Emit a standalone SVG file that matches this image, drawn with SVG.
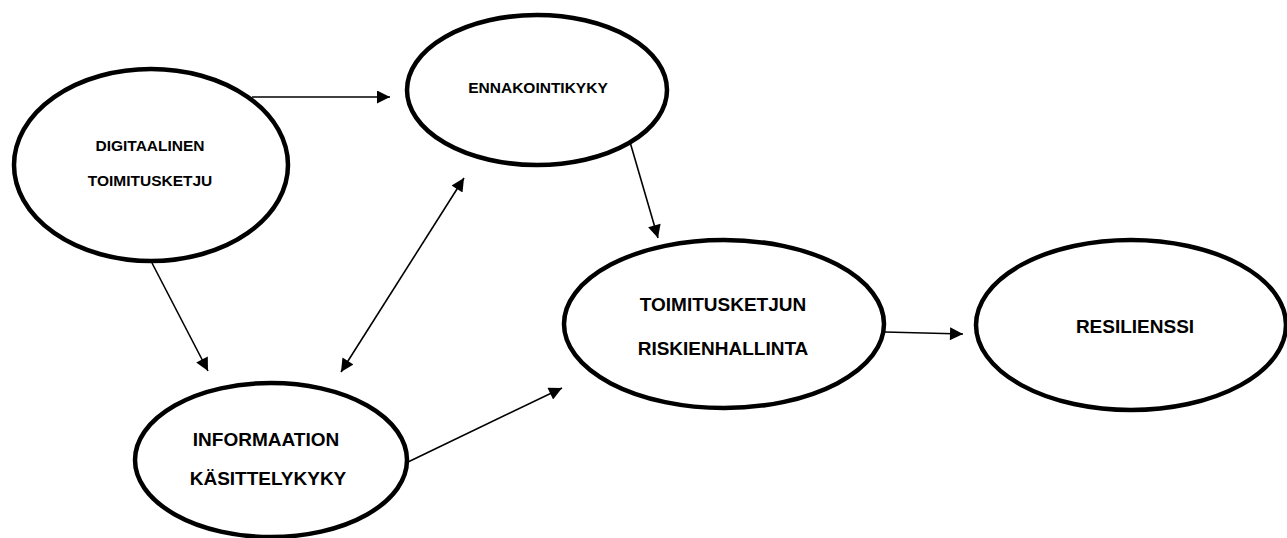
<svg xmlns="http://www.w3.org/2000/svg" width="1287" height="538" viewBox="0 0 1287 538">
<style>
.n{fill:#fff;stroke:#000;stroke-width:4.5}
.t{font-family:"Liberation Sans",Arial,sans-serif;font-weight:bold;fill:#000;text-anchor:middle;dominant-baseline:central}
.s{font-size:15.5px}
.l{font-size:19px}
.c{stroke:#000;stroke-width:1.6;fill:none}
</style>
<defs>
<marker id="ah" viewBox="0 0 10 10" refX="10" refY="5" markerWidth="16" markerHeight="13" markerUnits="userSpaceOnUse" orient="auto-start-reverse">
<path d="M0,0 L10,5 L0,10 Z" fill="#000"/>
</marker>
</defs>
<rect width="1287" height="538" fill="#fff"/>
<g id="connectors">
<line class="c" x1="252" y1="97" x2="390" y2="97" marker-end="url(#ah)"/>
<line class="c" x1="630" y1="142" x2="658" y2="238" marker-end="url(#ah)"/>
<line class="c" x1="152" y1="263" x2="208" y2="371" marker-end="url(#ah)"/>
<line class="c" x1="341" y1="372" x2="464" y2="178" marker-start="url(#ah)" marker-end="url(#ah)"/>
<line class="c" x1="408" y1="462" x2="562" y2="388" marker-end="url(#ah)"/>
<line class="c" x1="885" y1="332" x2="963" y2="334" marker-end="url(#ah)"/>
</g>
<g id="digitaalinen">
<ellipse class="n" cx="151" cy="165" rx="137" ry="96"/>
<text class="t s" x="150" y="145">DIGITAALINEN</text>
<text class="t s" x="150" y="180">TOIMITUSKETJU</text>
</g>
<g id="ennakointikyky">
<ellipse class="n" cx="537" cy="90" rx="130" ry="75"/>
<text class="t s" x="538" y="87">ENNAKOINTIKYKY</text>
</g>
<g id="riskienhallinta">
<ellipse class="n" cx="724" cy="324" rx="160" ry="84"/>
<text class="t l" x="723" y="304">TOIMITUSKETJUN</text>
<text class="t l" x="723" y="348">RISKIENHALLINTA</text>
</g>
<g id="resilienssi">
<ellipse class="n" cx="1131" cy="325" rx="155" ry="85"/>
<text class="t l" x="1135" y="326">RESILIENSSI</text>
</g>
<g id="informaation">
<ellipse class="n" cx="271" cy="460" rx="136" ry="77"/>
<text class="t l" x="266" y="439">INFORMAATION</text>
<text class="t l" x="268" y="478">KÄSITTELYKYKY</text>
</g>
</svg>
